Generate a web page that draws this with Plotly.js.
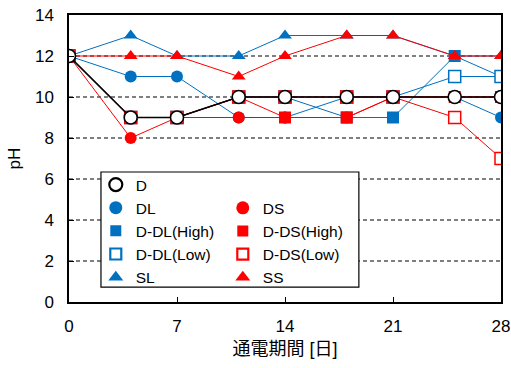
<!DOCTYPE html>
<html>
<head>
<meta charset="utf-8">
<script src="https://cdn.plot.ly/plotly-3.0.1.min.js"></script>
<style>html,body{margin:0;padding:0;background:#fff;}#chart{width:511px;height:368px;}</style>
</head>
<body>
<div id="chart"></div>
<script>
// ---- data ----
const days = [0, 4, 7, 11, 14, 18, 21, 25, 28];
const seriesNames = ['D', 'DL', 'DS', 'D-DL(High)', 'D-DS(High)', 'D-DL(Low)', 'D-DS(Low)', 'SL', 'SS'];
const D        = [12, 9, 9, 10, 10, 10, 10, 10, 10];
const DL       = [12, 11, 11, 9, 9, 10, 10, 10, 9];
const DS       = [12, 8, 9, 9, 9, 9, 10, 10, 10];
const DDL_High = [12, 9, 9, 10, 10, 9, 9, 12, 11];
const DDS_High = [12, 9, 9, 10, 9, 9, 10, 10, 10];
const DDL_Low  = [12, 9, 9, 10, 10, 10, 10, 11, 11];
const DDS_Low  = [12, 9, 9, 10, 10, 10, 10, 9, 7];
const SL       = [12, 13, 12, 12, 13, 13, 13, 12, 12];
const SS       = [12, 12, 12, 11, 12, 13, 13, 12, 12];
const xTicks = [0, 7, 14, 21, 28];
const yTicks = [0, 2, 4, 6, 8, 10, 12, 14];

const BLUE = '#0070C0', RED = '#FF0000';
const FONT = 'Liberation Sans, Arial, Noto Sans CJK JP, sans-serif';

const style = {
  'D':          {color: '#000000', symbol: 'circle',        fill: '#FFFFFF', size: 13, lw: 1.6, linew: 1.6},
  'DL':         {color: BLUE, symbol: 'circle',        fill: BLUE,      size: 12, lw: 0,   linew: 1},
  'DS':         {color: RED,  symbol: 'circle',        fill: RED,       size: 12, lw: 0,   linew: 1},
  'D-DL(High)': {color: BLUE, symbol: 'square',        fill: BLUE,      size: 12, lw: 0,   linew: 1},
  'D-DS(High)': {color: RED,  symbol: 'square',        fill: RED,       size: 12, lw: 0,   linew: 1},
  'D-DL(Low)':  {color: BLUE, symbol: 'square',        fill: '#FFFFFF', size: 12, lw: 1.5, linew: 1},
  'D-DS(Low)':  {color: RED,  symbol: 'square',        fill: '#FFFFFF', size: 12, lw: 1.5, linew: 1},
  'SL':         {color: BLUE, symbol: 'triangle-up',   fill: BLUE,      size: 12, lw: 0,   linew: 1},
  'SS':         {color: RED,  symbol: 'triangle-up',   fill: RED,       size: 12, lw: 0,   linew: 1}
};
const values = {
  'D': D, 'DL': DL, 'DS': DS, 'D-DL(High)': DDL_High, 'D-DS(High)': DDS_High,
  'D-DL(Low)': DDL_Low, 'D-DS(Low)': DDS_Low, 'SL': SL, 'SS': SS
};

// drawing order bottom -> top, chosen to match overlaps in the reference
const drawOrder = ['SL', 'D-DL(High)', 'D-DL(Low)', 'DL', 'DS', 'D-DS(High)', 'D-DS(Low)', 'SS', 'D'];

const traces = [];
drawOrder.forEach(n => {
  const s = style[n];
  traces.push({
    x: days, y: values[n], type: 'scatter', mode: 'lines+markers', name: n,
    showlegend: false, hoverinfo: 'x+y+name',
    line: {color: s.color, width: s.linew},
    marker: {symbol: s.symbol, size: s.size, color: s.fill, line: {color: s.color, width: s.lw}}
  });
});

// legend entries (markers only), two columns
const col1 = ['D', 'DL', 'D-DL(High)', 'D-DL(Low)', 'SL'];
const col2 = ['DS', 'D-DS(High)', 'D-DS(Low)', 'SS'];
function legendTrace(n, leg, rank) {
  const s = style[n];
  return {
    x: [null], y: [null], type: 'scatter', mode: 'markers', name: n,
    legend: leg, legendrank: rank, hoverinfo: 'skip',
    marker: {symbol: s.symbol, size: s.symbol === 'square' ? 11 : 13, color: s.fill,
             line: {color: s.color, width: s.lw ? 2.2 : 0}}
  };
}
col1.forEach((n, i) => traces.push(legendTrace(n, 'legend', i + 1)));
col2.forEach((n, i) => traces.push(legendTrace(n, 'legend2', i + 1)));

const legendCommon = {
  bgcolor: 'rgba(0,0,0,0)', borderwidth: 0, orientation: 'v',
  font: {family: FONT, size: 15.5, color: '#000'}, itemclick: false, itemdoubleclick: false,
  tracegroupgap: 0, xanchor: 'left', yanchor: 'top'
};

const layout = {
  width: 511, height: 368,
  margin: {l: 69, r: 10, t: 15, b: 66},
  paper_bgcolor: '#fff', plot_bgcolor: '#fff',
  font: {family: FONT, size: 17, color: '#000'},
  showlegend: true,
  xaxis: {
    range: [0, 28], tickvals: xTicks, ticktext: xTicks.map(String),
    ticks: 'inside', ticklen: 5, tickwidth: 1, tickcolor: '#000',
    showline: true, linecolor: '#000', linewidth: 1.6, mirror: true,
    showgrid: false, zeroline: false, ticklabelstandoff: 8,
    tickfont: {family: FONT, size: 17, color: '#000'},
    title: {text: '通電期間 [日]', font: {family: 'Liberation Sans, Noto Sans CJK JP, sans-serif', size: 18, color: '#000'}, standoff: 7}
  },
  yaxis: {
    range: [0, 14], tickvals: yTicks, ticktext: yTicks.map(String),
    ticks: 'inside', ticklen: 5, tickwidth: 1, tickcolor: '#000',
    showline: true, linecolor: '#000', linewidth: 1.6, mirror: true,
    showgrid: true, gridcolor: '#7F7F7F', gridwidth: 1.2, griddash: '4px,3px',
    zeroline: false, ticklabelstandoff: 10,
    tickfont: {family: FONT, size: 17, color: '#000'},
    title: {text: 'pH', font: {family: FONT, size: 17, color: '#000'}, standoff: 10}
  },
  legend: Object.assign({}, legendCommon, {x: 0.062, y: 0.467}),
  legend2: Object.assign({}, legendCommon, {x: 0.356, y: 0.386}),
  shapes: [{
    type: 'rect', xref: 'paper', yref: 'paper', layer: 'above',
    x0: 0.074, x1: 0.671, y0: 0.052, y1: 0.453,
    line: {color: '#000', width: 1.2}, fillcolor: '#FFFFFF'
  }]
};

Plotly.newPlot('chart', traces, layout, {displayModeBar: false, staticPlot: true});
</script>
</body>
</html>
